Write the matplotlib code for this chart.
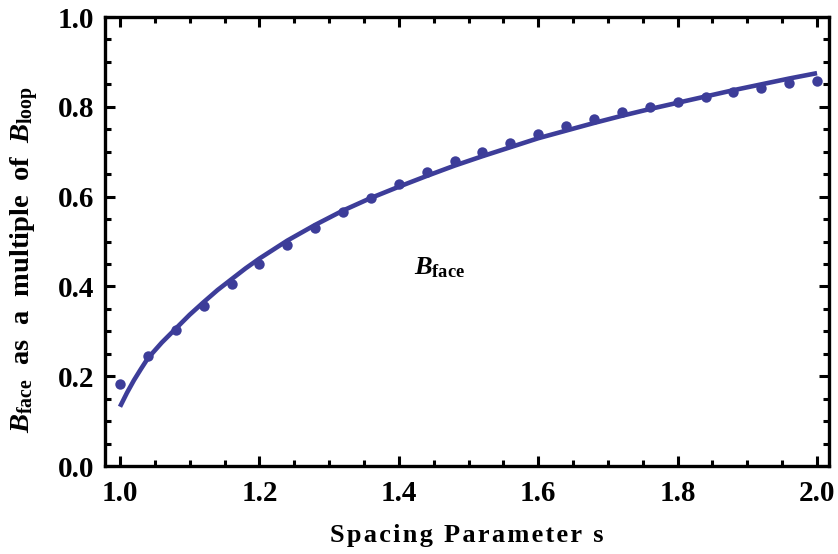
import numpy as np
import matplotlib
matplotlib.use("Agg")
import matplotlib.pyplot as plt
from matplotlib.ticker import MultipleLocator

# sampled points (spacing parameter s, B_face / B_loop)
s_pts = [1.00, 1.04, 1.08, 1.12, 1.16, 1.20, 1.24, 1.28, 1.32, 1.36, 1.40, 1.44, 1.48,
         1.52, 1.56, 1.60, 1.64, 1.68, 1.72, 1.76, 1.80, 1.84, 1.88, 1.92, 1.96, 2.00]
b_pts = [0.183, 0.245, 0.303, 0.356, 0.406, 0.451, 0.493, 0.531, 0.566, 0.598, 0.628, 0.655, 0.679,
         0.700, 0.720, 0.740, 0.757, 0.772, 0.788, 0.800, 0.811, 0.822, 0.833, 0.843, 0.852, 0.858]

# fitted curve
s_fit = [1.00, 1.01, 1.02, 1.03, 1.04, 1.06, 1.08, 1.10, 1.12, 1.14, 1.16, 1.18, 1.20,
         1.24, 1.28, 1.32, 1.36, 1.40, 1.44, 1.48, 1.52, 1.56, 1.60, 1.64, 1.68,
         1.72, 1.76, 1.80, 1.84, 1.88, 1.92, 1.96, 2.00]
b_fit = [0.132, 0.163, 0.191, 0.216, 0.240, 0.275, 0.306, 0.337, 0.365, 0.392, 0.416, 0.440, 0.462,
         0.502, 0.537, 0.569, 0.597, 0.622, 0.646, 0.669, 0.690, 0.710, 0.730, 0.747, 0.764,
         0.780, 0.795, 0.809, 0.823, 0.837, 0.850, 0.863, 0.875]

plt.rcParams['font.family'] = 'Liberation Serif'
plt.rcParams['font.weight'] = 'bold'
plt.rcParams['axes.labelweight'] = 'bold'
plt.rcParams['mathtext.fontset'] = 'custom'
plt.rcParams['mathtext.rm'] = 'Liberation Serif:bold'
plt.rcParams['mathtext.bf'] = 'Liberation Serif:bold'
plt.rcParams['mathtext.it'] = 'Liberation Serif:bold:italic'

col = '#3d3d99'

fig = plt.figure(figsize=(8.38, 5.54), dpi=100)
ax = fig.add_axes([0.1253, 0.1588, 0.8640, 0.8105])

ax.plot(s_fit, b_fit, '-', color=col, lw=3.3, solid_capstyle='butt')
ax.plot(s_pts, b_pts, 'o', color=col, ms=7.5, mec='none')

ax.text(1.459, 0.441, r'$B_{\mathrm{face}}$', fontsize=19, ha='center', va='center')

ax.set_xlim(0.9785, 2.0172)
ax.set_ylim(0, 1)
ax.xaxis.set_major_locator(MultipleLocator(0.2))
ax.xaxis.set_minor_locator(MultipleLocator(0.05))
ax.yaxis.set_major_locator(MultipleLocator(0.2))
ax.yaxis.set_minor_locator(MultipleLocator(0.05))
ax.xaxis.set_major_formatter(plt.FormatStrFormatter('%.1f'))
ax.yaxis.set_major_formatter(plt.FormatStrFormatter('%.1f'))

ax.tick_params(which='both', direction='in', top=True, right=True, width=2.2)
ax.tick_params(which='major', length=7, labelsize=21, pad=8)
ax.tick_params(which='minor', length=4)
ax.tick_params(axis='x', which='major', pad=10)
for sp in ax.spines.values():
    sp.set_linewidth(2.4)

xlab = '\u200a'.join('Spacing Parameter s')
ax.set_xlabel(xlab, fontsize=19, labelpad=12)
ax.set_ylabel(r'$B_{\mathrm{face}}$  as  a  multiple  of  $B_{\mathrm{loop}}$', fontsize=20.5)
ax.yaxis.set_label_coords(-0.088, 0.459)

fig.savefig('out.png', dpi=100)
